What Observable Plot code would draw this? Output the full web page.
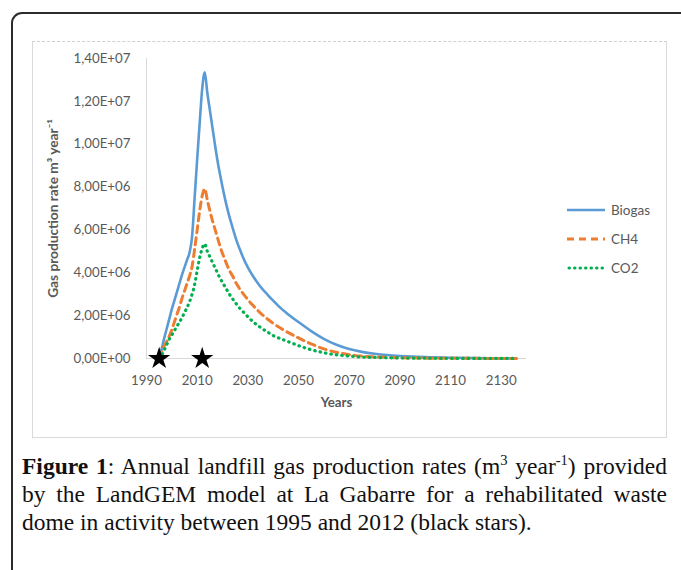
<!DOCTYPE html>
<html><head><meta charset="utf-8">
<script src="https://cdn.jsdelivr.net/npm/d3@7"></script>
<script src="https://cdn.jsdelivr.net/npm/@observablehq/plot@0.6"></script>
<style>
html,body{margin:0;padding:0;background:#fff;}
body{width:681px;height:570px;position:relative;overflow:hidden;}
#frame{position:absolute;left:11px;top:12px;width:740px;height:640px;border:2px solid #2b2b2b;border-radius:11px;box-sizing:border-box;}
#box{position:absolute;left:32px;top:41px;width:635px;height:397px;border:1px solid #d9d9d9;border-top:1px dashed #cfcfcf;box-sizing:border-box;}
#chart{position:absolute;left:32px;top:42px;}
#legend{position:absolute;left:567px;top:195px;font:13.5px Lato, sans-serif;color:#595959;}
.item{display:flex;align-items:center;height:29px;}
.item svg{margin-right:4px;display:block}
#caption{position:absolute;left:22px;top:452px;width:645px;font-family:"Liberation Serif",serif;font-size:23.5px;line-height:28px;color:#111;}
.j{text-align:justify;text-align-last:justify;}
sup{font-size:0.62em;line-height:0;vertical-align:0.6em;}
</style>
</head><body>
<div id="frame"></div>
<div id="box"></div>
<div id="chart"></div>
<div id="legend"></div>
<div id="caption">
<div class="j"><b>Figure 1</b>: Annual landfill gas production rates (m<sup>3</sup> year<sup>-1</sup>) provided</div>
<div class="j">by the LandGEM model at La Gabarre for a rehabilitated waste</div>
<div>dome in activity between 1995 and 2012 (black stars).</div>
</div>
<script>
// Years of the series
const years = [1995,1996,1997,1998,1999,2000,2001,2002,2003,2004,2005,2006,2007,2008,2009,2010,2011,2012,2013,2014,2015,2016,2017,2018,2019,2020,2021,2022,2023,2024,2025,2026,2027,2028,
  2030,2032,2035,2038,2040,2043,2045,
  2050,2055,2060,2065,2070,2075,2080,2085,2090,2095,2100,
  2110,2120,2130,2136];
// Gas production rates, millions of m3 per year
const biogas = [0,0.45,0.95,1.4,1.85,2.3,2.7,3.1,3.5,3.9,4.25,4.6,4.95,5.7,7.5,9.3,11.0,12.6,13.36,12.4,11.6,10.8,10.0,9.25,8.6,8.0,7.45,6.95,6.5,6.1,5.7,5.35,5.05,4.75,
  4.25,3.85,3.35,2.95,2.7,2.35,2.15,
  1.7,1.28,0.92,0.64,0.44,0.31,0.22,0.16,0.12,0.09,0.065,
  0.035,0.018,0.01,0.006];
const ch4 = [0,0.3,0.6,0.8,1.05,1.35,1.7,2.05,2.4,2.8,3.15,3.5,3.85,4.3,5.1,6.0,6.9,7.6,7.92,7.4,6.9,6.45,6.05,5.65,5.25,4.9,4.6,4.3,4.05,3.85,3.6,3.4,3.2,3.05,
  2.75,2.48,2.12,1.82,1.64,1.41,1.27,
  0.96,0.68,0.45,0.29,0.18,0.11,0.075,0.05,0.035,0.025,0.018,
  0.01,0.006,0.003,0.002];
const co2 = [0,0.15,0.4,0.65,0.9,1.1,1.3,1.5,1.7,1.9,2.15,2.38,2.65,3.0,3.45,4.1,4.7,5.15,5.35,5.0,4.75,4.5,4.25,4.0,3.75,3.55,3.35,3.15,2.95,2.78,2.62,2.47,2.32,2.2,
  1.95,1.72,1.45,1.22,1.07,0.92,0.83,
  0.6,0.41,0.27,0.17,0.11,0.07,0.05,0.035,0.025,0.018,0.013,
  0.007,0.004,0.002,0.001];
// Years of activity (black stars)
const starYears = [1995, 2012];
const xTicks = [1990, 2010, 2030, 2050, 2070, 2090, 2110, 2130];
const yTicks = [0, 2e6, 4e6, 6e6, 8e6, 1e7, 1.2e7, 1.4e7];
const seriesNames = ["Biogas", "CH4", "CO2"];
const seriesColors = ["#5B9BD5", "#ED7D31", "#00B050"];
const seriesDash = [null, "7,5", "0.5,5"];

const toRows = arr => years.map((yr, i) => ({year: yr, value: arr[i] * 1e6}));
const stars = starYears.map(yr => ({year: yr, value: 0}));

const sci = d => {
  const [m, e] = d.toExponential(2).split("e");
  const n = +e;
  return m.replace(".", ",") + "E" + (n < 0 ? "-" : "+") + String(Math.abs(n)).padStart(2, "0");
};

const chart = Plot.plot({
  width: 636, height: 396,
  marginLeft: 114, marginRight: 142, marginTop: 16, marginBottom: 80,
  style: {fontFamily: "Lato, sans-serif", fontSize: "13.3px", color: "#595959", background: "transparent", overflow: "visible"},
  x: {domain: [1990, 2140]},
  y: {domain: [0, 1.4e7]},
  marks: [
    Plot.ruleX([1990], {stroke: "#d9d9d9", strokeWidth: 1}),
    Plot.ruleY([0], {stroke: "#d9d9d9", strokeWidth: 1}),
    Plot.axisX({ticks: xTicks, tickSize: 0, tickPadding: 17, tickFormat: d => String(d), label: null}),
    Plot.axisX({ticks: [], label: "Years", labelAnchor: "center", labelArrow: "none", labelOffset: 48, fontWeight: "bold"}),
    Plot.axisY({ticks: yTicks, tickSize: 0, tickPadding: 16, tickFormat: sci, label: null}),
    Plot.axisY({ticks: [], label: "Gas production rate m³ year⁻¹", labelAnchor: "center", labelArrow: "none", labelOffset: 98, fontWeight: "bold", fontSize: "13.7px"}),
    Plot.line(toRows(biogas), {x: "year", y: "value", stroke: seriesColors[0], strokeWidth: 2.6, curve: "monotone-x"}),
    Plot.line(toRows(ch4), {x: "year", y: "value", stroke: seriesColors[1], strokeWidth: 3, strokeDasharray: seriesDash[1], curve: "monotone-x"}),
    Plot.line(toRows(co2), {x: "year", y: "value", stroke: seriesColors[2], strokeWidth: 3.2, strokeDasharray: seriesDash[2], strokeLinecap: "round", curve: "monotone-x"}),
    Plot.dot(stars, {x: "year", y: "value", symbol: "star", fill: "black", r: 7})
  ]
});
document.getElementById("chart").appendChild(chart);

// Legend
const legend = document.getElementById("legend");
seriesNames.forEach((name, i) => {
  const item = document.createElement("div");
  item.className = "item";
  const dash = seriesDash[i] ? `stroke-dasharray="${seriesDash[i]}"` : "";
  const cap = i === 2 ? `stroke-linecap="round"` : "";
  item.innerHTML = `<svg width="40" height="8"><line x1="${i===2?2:0}" y1="4" x2="38" y2="4" stroke="${seriesColors[i]}" stroke-width="${i===0?2.6:3}" ${dash} ${cap}/></svg><span>${name}</span>`;
  legend.appendChild(item);
});
</script>
</body></html>
